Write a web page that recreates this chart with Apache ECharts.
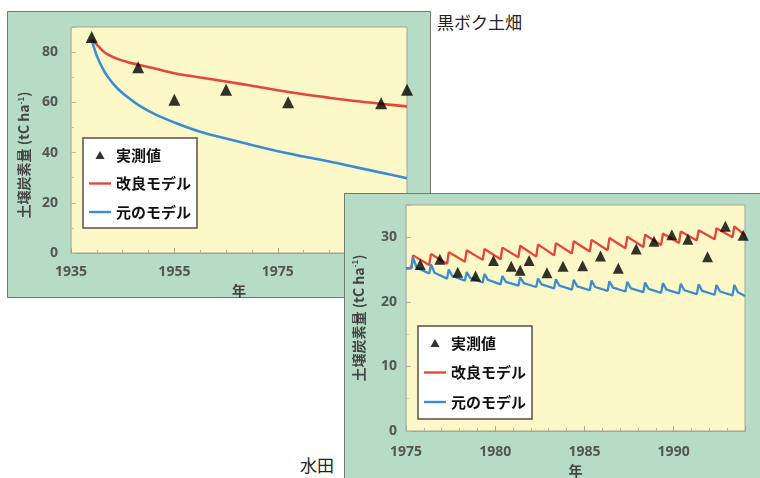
<!DOCTYPE html>
<html>
<head>
<meta charset="utf-8">
<script src="https://cdn.jsdelivr.net/npm/echarts@6/dist/echarts.min.js"></script>
<style>
  html, body { margin: 0; padding: 0; background: #fff; }
  body { width: 760px; height: 478px; overflow: hidden; position: relative; }
  .panel { position: absolute; }
  .title { position: absolute; font-family: "Noto Sans CJK JP", sans-serif; font-size: 17px; color: #222; white-space: nowrap; }
</style>
</head>
<body>
<div id="upland" class="panel" style="left:7px;top:11px;width:424px;height:287px;"></div>
<div class="title" style="left:437px;top:9px;">黒ボク土畑</div>
<div id="paddy" class="panel" style="left:344px;top:193px;width:420px;height:290px;"></div>
<div class="title" style="left:300px;top:452px;">水田</div>
<script>
// ---- 黒ボク土畑 (upland Andosol field) ----
const uplandObsYears = [1939, 1948, 1955, 1965, 1977, 1995, 2000];
const uplandObs      = [86, 74, 61, 65, 60, 59.6, 65];
const uplandModelYears = [1939, 1940, 1941, 1942, 1944, 1946, 1948, 1951, 1955, 1960, 1965, 1970, 1975, 1980, 1985, 1990, 1995, 2000];
const uplandImproved   = [85, 83, 80.8, 79.2, 77.3, 76, 75, 73.6, 71.6, 69.9, 68.3, 66.6, 64.8, 63.2, 61.8, 60.5, 59.4, 58.4];
const uplandOriginal   = [85, 78.5, 74, 70.5, 65.5, 62, 59, 55.5, 52, 48.3, 45.6, 43, 40.5, 38.4, 36.4, 34.2, 32, 29.8];
const uplandYearTicks  = { min: 1935, max: 2000, step: 20 };
const uplandValueTicks = { min: 0, max: 90, step: 20 };

// ---- 水田 (paddy field) ----
const paddyObsYears = [1975.8, 1976.9, 1977.9, 1978.9, 1979.9, 1980.9, 1981.4, 1981.9, 1982.9, 1983.8,
                       1984.9, 1985.9, 1986.9, 1987.9, 1988.9, 1989.9, 1990.8, 1991.9, 1992.9, 1993.9];
const paddyObs      = [25.8, 26.6, 24.6, 24.0, 26.4, 25.5, 24.9, 26.4, 24.5, 25.5,
                       25.6, 27.1, 25.2, 28.2, 29.4, 30.4, 29.7, 27.0, 31.7, 30.3];
// yearly cycle of the models: value just before the annual input, the peak after it,
// and (original model) the level it falls back to shortly after the peak
const paddyCycleYears = [1975, 1976, 1977, 1978, 1979, 1980, 1981, 1982, 1983, 1984,
                         1985, 1986, 1987, 1988, 1989, 1990, 1991, 1992, 1993];
const paddyStart = 25.2;
const improvedLow  = [25.3, 25.7, 25.9, 26.2, 26.5, 26.6, 26.9, 27.0, 27.2, 27.5, 27.8, 28.0, 28.3, 28.5, 28.8, 29.1, 29.5, 29.7, 30.0];
const improvedPeak = [27.2, 27.4, 27.7, 28.0, 28.2, 28.4, 28.7, 28.9, 29.1, 29.4, 29.6, 29.9, 30.1, 30.4, 30.6, 30.9, 31.1, 31.4, 31.7];
const improvedEnd  = 30.3;
const originalLow    = [25.2, 24.4, 23.6, 23.3, 23.0, 22.7, 22.5, 22.3, 22.1, 21.9, 21.8, 21.7, 21.6, 21.5, 21.4, 21.3, 21.2, 21.1, 21.0];
const originalPeak   = [26.8, 25.8, 25.0, 24.6, 24.3, 24.0, 23.8, 23.6, 23.5, 23.4, 23.3, 23.2, 23.1, 23.0, 22.9, 22.8, 22.7, 22.6, 22.6];
const originalSettle = [25.3, 24.5, 24.0, 23.7, 23.4, 23.1, 22.9, 22.7, 22.5, 22.4, 22.3, 22.2, 22.1, 22.0, 21.9, 21.8, 21.7, 21.6, 21.5];
const originalEnd    = 20.9;
const paddyEndYear   = 1994;
// time within the year (fraction) of the annual input, its peak and settling
const inputAt = 0.3, peakAt = 0.4, settleAt = 0.6;
const paddyYearTicks  = { min: 1975, max: 1994, step: 5 };
const paddyValueTicks = { min: 0, max: 35, step: 10 };

const NAMES = { obs: '実測値', improved: '改良モデル', original: '元のモデル' };
const COLORS = { improved: '#e6453c', original: '#3c8cd2', obs: '#000' };
const PANEL_BG = '#b6dcc5', PLOT_BG = '#fcf8c8';
const LINE_ICON = 'path://M0,0H24V2.6H0Z';
const TRI_ICON = 'path://M4,0L8,7L0,7Z';

function zip(xs, ys) { return xs.map((x, i) => [x, ys[i]]); }

function improvedCycle() {
  const pts = [[paddyCycleYears[0], paddyStart]];
  paddyCycleYears.forEach((y, i) => {
    pts.push([y + inputAt, improvedLow[i]]);
    pts.push([y + peakAt, improvedPeak[i]]);
  });
  pts.push([paddyEndYear, improvedEnd]);
  return pts;
}
function originalCycle() {
  const pts = [[paddyCycleYears[0], paddyStart]];
  paddyCycleYears.forEach((y, i) => {
    pts.push([y + inputAt, originalLow[i]]);
    pts.push([y + peakAt, originalPeak[i]]);
    pts.push([y + settleAt, originalSettle[i]]);
  });
  pts.push([paddyEndYear, originalEnd]);
  return pts;
}

const tickFont = { color: '#555', fontSize: 14, fontWeight: 'bold', fontFamily: 'Noto Sans, sans-serif' };
const yName = '土壌炭素量 (tC ha{sup|-1})';

function panelOption(cfg) {
  return {
    animation: false,
    backgroundColor: PANEL_BG,
    graphic: [{
      type: 'rect', z: -10, silent: true,
      shape: { x: 0.5, y: 0.5, width: cfg.w - 1, height: cfg.h - 1 },
      style: { fill: PANEL_BG, stroke: '#6e7a72', lineWidth: 1 }
    }],
    grid: {
      left: cfg.grid[0], top: cfg.grid[1], width: cfg.grid[2], height: cfg.grid[3],
      show: true, backgroundColor: PLOT_BG, borderColor: '#a8a593', borderWidth: 1,
      outerBoundsMode: 'none', containLabel: false
    },
    legend: {
      orient: 'vertical', left: cfg.legend[0], top: cfg.legend[1],
      backgroundColor: '#fff', borderColor: '#5a4f48', borderWidth: 1.5, borderRadius: 0,
      padding: cfg.legendPad, itemGap: cfg.legendGap, itemWidth: 22, itemHeight: 8,
      symbolKeepAspect: true,
      textStyle: { color: '#111', fontSize: 15, fontWeight: 'bold', fontFamily: 'Noto Sans CJK JP', lineHeight: 18 },
      data: [
        { name: NAMES.obs, icon: TRI_ICON, itemStyle: { color: COLORS.obs } },
        { name: NAMES.improved, icon: LINE_ICON, itemStyle: { color: COLORS.improved } },
        { name: NAMES.original, icon: LINE_ICON, itemStyle: { color: COLORS.original } }
      ]
    },
    xAxis: {
      type: 'value', min: cfg.xt.min, max: cfg.xt.max, interval: cfg.xt.step,
      name: '年', nameLocation: 'middle', nameGap: cfg.xNameGap,
      nameTextStyle: { color: '#444', fontSize: 14, fontWeight: 'bold', fontFamily: 'Noto Sans CJK JP' },
      axisLine: { show: true, lineStyle: { color: '#a8a593', width: 1 } },
      axisTick: { show: true, inside: true, length: 5, lineStyle: { color: '#a8a593' } },
      minorTick: { show: true, splitNumber: cfg.xMinor, length: 3, lineStyle: { color: '#b8b5a3' } },
      splitLine: { show: false },
      axisLabel: Object.assign({ margin: cfg.xLabelMargin, showMaxLabel: false, formatter: v => String(v) }, tickFont)
    },
    yAxis: {
      type: 'value', min: cfg.yt.min, max: cfg.yt.max, interval: cfg.yt.step,
      name: yName, nameLocation: 'middle', nameGap: cfg.yNameGap, nameRotate: 90,
      nameTextStyle: {
        color: '#444', fontSize: 14, fontWeight: 'bold', fontFamily: 'Noto Sans CJK JP',
        padding: cfg.yNamePad,
        rich: { sup: { fontSize: 8, fontWeight: 'bold', color: '#444', verticalAlign: 'top', padding: [0, 0, 7, 0] } }
      },
      axisLine: { show: true, lineStyle: { color: '#c8c5b3', width: 1 } },
      axisTick: { show: true, inside: true, length: 5, lineStyle: { color: '#b8b5a3' } },
      minorTick: { show: true, splitNumber: 2, length: 3, lineStyle: { color: '#c8c5b3' } },
      splitLine: { show: false },
      axisLabel: Object.assign({ margin: cfg.yLabelMargin, showMaxLabel: false }, tickFont)
    },
    series: [
      { name: NAMES.obs, type: 'scatter', symbol: 'triangle', symbolSize: cfg.markSize, z: 5,
        itemStyle: { color: COLORS.obs }, data: cfg.obs },
      { name: NAMES.improved, type: 'line', symbol: 'none', showSymbol: false, z: 3, smooth: cfg.smooth,
        lineStyle: { color: COLORS.improved, width: cfg.lineW }, itemStyle: { color: COLORS.improved },
        data: cfg.improved },
      { name: NAMES.original, type: 'line', symbol: 'none', showSymbol: false, z: 3, smooth: cfg.smooth,
        lineStyle: { color: COLORS.original, width: cfg.lineW }, itemStyle: { color: COLORS.original },
        data: cfg.original }
    ]
  };
}

const upland = echarts.init(document.getElementById('upland'), null, { renderer: 'canvas' });
upland.setOption(panelOption({
  w: 424, h: 287, grid: [64, 16, 336, 226],
  legend: [76, 127], legendPad: [8, 6, 7, 6], legendGap: 10.5,
  xt: uplandYearTicks, yt: uplandValueTicks, xMinor: 4,
  xNameGap: 25, xLabelMargin: 12, yLabelMargin: 13, yNameGap: 39, yNamePad: [0, 30, 0, 0],
  markSize: 12, lineW: 2.6, smooth: 0.35,
  obs: zip(uplandObsYears, uplandObs),
  improved: zip(uplandModelYears, uplandImproved),
  original: zip(uplandModelYears, uplandOriginal)
}));

const paddy = echarts.init(document.getElementById('paddy'), null, { renderer: 'canvas' });
paddy.setOption(panelOption({
  w: 420, h: 290, grid: [62, 12, 339, 226],
  legend: [74, 133], legendPad: [8, 6, 8, 6], legendGap: 11.5,
  xt: paddyYearTicks, yt: paddyValueTicks, xMinor: 5,
  xNameGap: 30, xLabelMargin: 14, yLabelMargin: 9, yNameGap: 40, yNamePad: [0, 0, 0, 0],
  markSize: 11, lineW: 2.3, smooth: false,
  obs: zip(paddyObsYears, paddyObs),
  improved: improvedCycle(),
  original: originalCycle()
}));
</script>
</body>
</html>
